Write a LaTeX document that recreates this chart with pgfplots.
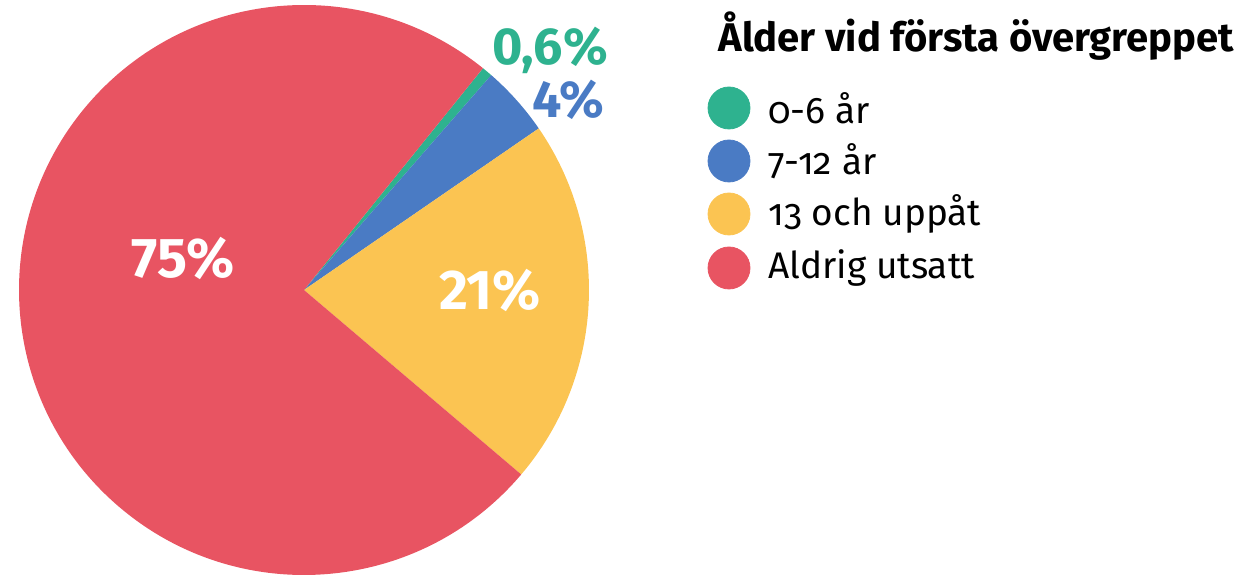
\documentclass[border=0pt]{standalone}
\usepackage{fontspec}
\setmainfont{Fira Sans}
\usepackage{pgfplots}
\pgfplotsset{compat=1.18}
\definecolor{cgreen}{RGB}{46,178,143}
\definecolor{cblue}{RGB}{74,123,196}
\definecolor{cyellow}{RGB}{251,196,82}
\definecolor{cred}{RGB}{232,84,98}

% shares in percent (clockwise from the green slice)
\def\vgreen{0.6}
\def\vblue{4}
\def\vyellow{20.8}
\def\vred{74.6}

\begin{document}
\begin{tikzpicture}
\pgfmathsetmacro\aA{51.1}
\pgfmathsetmacro\aB{\aA-3.6*\vgreen}
\pgfmathsetmacro\aC{\aB-3.6*\vblue}
\pgfmathsetmacro\aD{\aC-3.6*\vyellow}
\pgfmathsetmacro\aE{\aD-3.6*\vred}
\begin{axis}[
width=624pt, height=288pt, scale only axis,
xmin=0, xmax=1248, ymin=0, ymax=576,
hide axis, clip=false,
]
% pie slices
\fill[cgreen] (axis cs:304,286) -- (axis cs:{304+285*cos(\aA)},{286+285*sin(\aA)}) arc[start angle=\aA, end angle=\aB, radius=285] -- cycle;
\fill[cblue] (axis cs:304,286) -- (axis cs:{304+285*cos(\aB)},{286+285*sin(\aB)}) arc[start angle=\aB, end angle=\aC, radius=285] -- cycle;
\fill[cyellow] (axis cs:304,286) -- (axis cs:{304+285*cos(\aC)},{286+285*sin(\aC)}) arc[start angle=\aC, end angle=\aD, radius=285] -- cycle;
\fill[cred] (axis cs:304,286) -- (axis cs:{304+285*cos(\aD)},{286+285*sin(\aD)}) arc[start angle=\aD, end angle=\aE, radius=285] -- cycle;

% slice labels
\node[text=cgreen, font=\fontsize{26}{26}\selectfont\bfseries] at (axis cs:550,526) {0,6\%};
\node[text=cblue, font=\fontsize{26}{26}\selectfont\bfseries] at (axis cs:568,476) {4\%};
\node[text=white, font=\fontsize{28}{28}\selectfont\bfseries] at (axis cs:183,318) {75\%};
\node[text=white, font=\fontsize{28}{28}\selectfont\bfseries] at (axis cs:490,286) {21\%};

% legend
\node[anchor=base west, inner sep=0pt, font=\fontsize{20}{24}\selectfont\bfseries] at (axis cs:718,524) {Ålder vid första övergreppet};
\addplot[only marks, mark=*, mark size=10.5pt, color=cgreen] coordinates {(729,468)};
\addplot[only marks, mark=*, mark size=10.5pt, color=cblue] coordinates {(729,415)};
\addplot[only marks, mark=*, mark size=10.5pt, color=cyellow] coordinates {(729,362)};
\addplot[only marks, mark=*, mark size=10.5pt, color=cred] coordinates {(729,308)};
\begin{scope}[every node/.style={anchor=west, inner sep=0pt, font=\fontsize{18.5}{22}\selectfont\addfontfeatures{Numbers=OldStyle}}]
\node at (axis cs:768,468) {0-6 år};
\node at (axis cs:768,415) {7-12 år};
\node at (axis cs:768,362) {13 och uppåt};
\node at (axis cs:768,308) {Aldrig utsatt};
\end{scope}
\end{axis}
\pgfresetboundingbox
\path (current axis.south west) rectangle (current axis.north east);
\end{tikzpicture}
\end{document}
